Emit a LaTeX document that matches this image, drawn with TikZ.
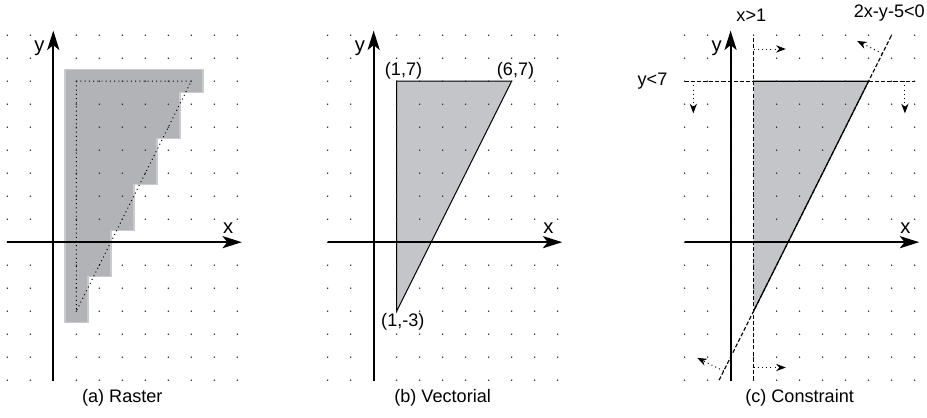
\documentclass[tikz,border=0pt]{standalone}
\usepackage{fontspec}
\setmainfont{Liberation Sans}
\usetikzlibrary{arrows.meta}

\definecolor{rasterfill}{RGB}{178,179,183}
\definecolor{rasteredge}{RGB}{202,202,205}
\definecolor{vectfill}{RGB}{196,197,201}

\tikzset{
  axis/.style={line width=1.2pt,-{Stealth[length=12pt,width=7.5pt,inset=3pt]}},
  griddot/.style={fill=black!85},
  bound/.style={line width=0.7pt,dash pattern=on 2.5pt off 1.3pt},
  halfplane/.style={line width=0.6pt,dotted,-{Stealth[length=6pt,width=4.5pt]}},
}

\begin{document}
\begin{tikzpicture}[x=0.5cm,y=0.5cm,font=\fontsize{11.2}{13}\selectfont]
  \useasboundingbox (-2.317,-7.64) rectangle (37.99,10.53);
  % (a) raster: the pixels covering the triangle
  \fill[rasterfill,draw=rasteredge,line width=1pt]
    (0.5,7.5) -- (6.5,7.5) -- (6.5,6.5) -- (5.5,6.5) -- (5.5,4.5)
    -- (4.5,4.5) -- (4.5,2.5) -- (3.5,2.5) -- (3.5,0.5) -- (2.5,0.5)
    -- (2.5,-1.5) -- (1.5,-1.5) -- (1.5,-3.5) -- (0.5,-3.5) -- cycle;
  \coordinate (a1) at (1,7);
  \coordinate (a2) at (6,7);
  \coordinate (a3) at (1,-3);
  \draw[dotted,line width=0.6pt] (a1) -- (a2) -- (a3) -- cycle;
  % (b) vectorial: the three vertices
  \begin{scope}[shift={(13.93,0)}]
    \coordinate (b1) at (1,7);
    \coordinate (b2) at (6,7);
    \coordinate (b3) at (1,-3);
    \draw[fill=vectfill,line width=0.6pt] (b1) -- (b2) -- (b3) -- cycle;
    \node[anchor=south,inner sep=1pt] (lb1) at (1.3,7) {(1,7)};
    \node[anchor=south,inner sep=1pt] (lb2) at (6.17,7) {(6,7)};
    \node[anchor=north,inner sep=1pt] (lb3) at (1.27,-3) {(1,-3)};
  \end{scope}
  % (c) constraint: three half-planes
  \begin{scope}[shift={(29.45,0)}]
    \coordinate (c1) at (1,7);
    \coordinate (c2) at (6,7);
    \coordinate (c3) at (1,-3);
    \fill[vectfill] (c1) -- (c2) -- (c3) -- cycle;
    \coordinate (v0) at (1,-6);
    \coordinate (v1) at (1,9);
    \coordinate (h0) at (-2,7);
    \coordinate (h1) at (8,7);
    \coordinate (d0) at (-0.5,-6);
    \coordinate (d1) at (7,9);
    \draw[bound] (v0) -- (v1);
    \draw[bound] (h0) -- (h1);
    \draw[bound] (d0) -- (d1);
    \draw[line width=0.7pt] (c3) -- (c2) -- (c1);
    \node (lx) at (0.9,9.85) {x>1};
    \node[anchor=east] (ly) at (-2.5,7) {y<7};
    \node (ld) at (6.9,9.95) {2x-y-5<0};
    % feasible side of each bound
    \coordinate (xa0) at (1,8.4);     \coordinate (xa1) at (2.4,8.4);
    \coordinate (xb0) at (1,-5.45);   \coordinate (xb1) at (2.4,-5.45);
    \coordinate (ya0) at (-1.62,7);   \coordinate (ya1) at (-1.62,5.6);
    \coordinate (yb0) at (7.58,7);    \coordinate (yb1) at (7.58,5.6);
    \coordinate (da0) at (6.6,8.2);   \coordinate (da1) at (5.5,8.75);
    \coordinate (db0) at (-0.3,-5.6); \coordinate (db1) at (-1.45,-5.03);
    \draw[halfplane] (xa0) -- (xa1);
    \draw[halfplane] (xb0) -- (xb1);
    \draw[halfplane] (ya0) -- (ya1);
    \draw[halfplane] (yb0) -- (yb1);
    \draw[halfplane] (da0) -- (da1);
    \draw[halfplane] (db0) -- (db1);
  \end{scope}
  % dotted grid, axes and captions of each panel
  \foreach \dx/\p/\cap in {0/a/(a) Raster,13.93/b/(b) Vectorial,29.45/c/(c) Constraint} {
    \foreach \i in {-2,...,8}
      \foreach \j in {-6,...,9}
        \fill[griddot] (\dx+\i,\j) circle (0.5pt);
    \draw[axis] (\dx-2,0) -- (\dx+8.2,0);
    \draw[axis] (\dx,-6.05) -- (\dx,9.2);
    \node[font=\fontsize{12.5}{14}\selectfont] (\p-x) at (\dx+7.6,0.6) {x};
    \node[font=\fontsize{12.5}{14}\selectfont] (\p-y) at (\dx-0.6,8.45) {y};
    \node (\p-cap) at (\dx+3,-6.77) {\cap};
  }
\end{tikzpicture}
\end{document}
